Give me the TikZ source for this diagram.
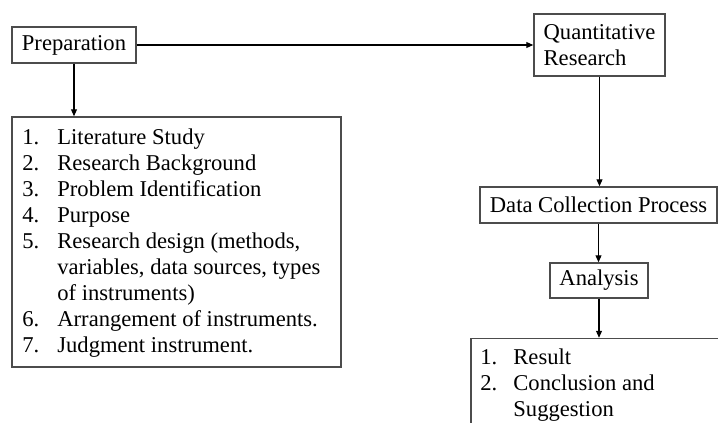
\documentclass[tikz,border=0pt]{standalone}
\usepackage{fontspec}
\setmainfont{Liberation Serif}
\usetikzlibrary{arrows.meta}
\begin{document}
\begin{tikzpicture}[x=0.5pt,y=-0.5pt,
  box/.style={draw=black!70, line width=0.75pt, inner sep=0pt},
  lbl/.style={font=\fontsize{11.3pt}{13pt}\selectfont, align=left, inner sep=0pt},
  arr/.style={-{Triangle[length=3.5pt,width=3pt]}, line width=0.55pt, draw=black}]
\useasboundingbox (0,0) rectangle (718,423);
\clip (0,0) rectangle (718,423);
\newcommand{\numitem}[2]{\makebox[17.5pt][l]{#1}#2}
\newcommand{\numcont}[1]{\hspace*{17.5pt}#1}
\newcommand{\resitem}[2]{\makebox[16.5pt][l]{#1}#2}
\node[box, lbl, minimum width=62pt, minimum height=18pt] (prep) at (74,45) {Preparation};
\node[box, lbl, minimum width=65.5pt, minimum height=31pt] (quant) at (599.5,45) {Quantitative\\Research};
\node[box, lbl, minimum width=118.5pt, minimum height=18pt] (data) at (598.5,205) {Data Collection Process};
\node[box, lbl, minimum width=49pt, minimum height=17.5pt] (analysis) at (599,280.5) {Analysis};
\node[box, minimum width=164.5pt, minimum height=125pt] (list) at (176.5,242) {};
\node[lbl, anchor=base west] (listtxt) at (22,352) {%
\numitem{1.}{Literature Study}\\
\numitem{2.}{Research Background}\\
\numitem{3.}{Problem Identification}\\
\numitem{4.}{Purpose}\\
\numitem{5.}{Research design (methods,}\\
\numcont{variables, data sources, types}\\
\numcont{of instruments)}\\
\numitem{6.}{Arrangement of instruments.}\\
\numitem{7.}{Judgment instrument.}};
\node[box, minimum width=129.5pt, minimum height=51pt] (res) at (600.5,389.5) {};
\node[lbl, anchor=base west] (restxt) at (480,416) {%
\resitem{1.}{Result}\\
\resitem{2.}{Conclusion and}\\
\hspace*{16.5pt}Suggestion};
\draw[arr] (prep.east) -- (quant.west);
\draw[arr] (prep.south) -- (prep.south |- list.north);
\draw[arr] (quant.south) -- (quant.south |- data.north);
\draw[arr] (data.south) -- (data.south |- analysis.north);
\draw[arr] (analysis.south) -- (analysis.south |- res.north);
\end{tikzpicture}
\end{document}
